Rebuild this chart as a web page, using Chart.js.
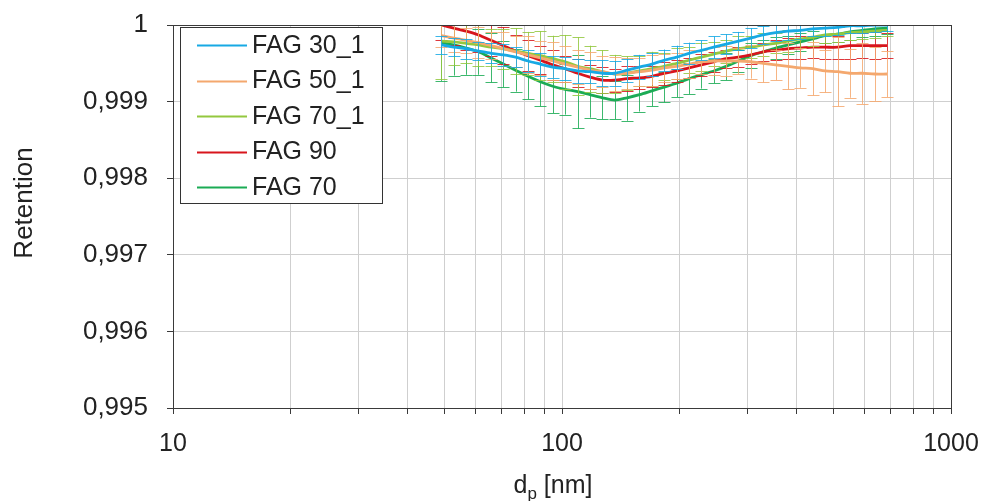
<!DOCTYPE html>
<html>
<head>
<meta charset="utf-8">
<script src="https://cdn.jsdelivr.net/npm/chart.js@4.4.1/dist/chart.umd.min.js"></script>
<style>
    body { margin: 0; background: #fff; }
    canvas { display: block; }
</style>
</head>
<body>
<canvas id="retentionChart" width="986" height="501"></canvas>
<script>
// particle diameter [nm] of each size channel
const diameters = [49.0, 52.7, 56.7, 61.0, 65.7, 70.7, 76.0, 81.8, 88.0, 94.7, 101.9, 109.7, 118.0, 127.0, 136.6, 147.0, 158.2, 170.2, 183.1, 197.1, 212.0, 228.2, 245.5, 264.2, 284.2, 305.8, 329.1, 354.1, 381.0, 410.0, 441.2, 474.7, 510.8, 549.6, 591.4, 636.4, 684.8];

const seriesNames = ['FAG 30_1', 'FAG 50_1', 'FAG 70_1', 'FAG 90', 'FAG 70'];

// retention per channel
const fag30_1 = [0.99974, 0.99971, 0.99969, 0.99966, 0.99963, 0.99961, 0.99958, 0.99953, 0.99949, 0.99945, 0.99943, 0.99940, 0.99939, 0.99937, 0.99937, 0.99941, 0.99945, 0.99949, 0.99954, 0.99958, 0.99963, 0.99967, 0.99971, 0.99975, 0.99979, 0.99983, 0.99987, 0.99990, 0.99992, 0.99993, 0.99995, 0.99996, 0.99997, 0.99999, 0.99999, 1.00000, 1.00000];
const fag50_1 = [0.99986, 0.99983, 0.99980, 0.99977, 0.99973, 0.99969, 0.99965, 0.99961, 0.99957, 0.99953, 0.99949, 0.99945, 0.99941, 0.99939, 0.99936, 0.99937, 0.99939, 0.99941, 0.99944, 0.99946, 0.99949, 0.99952, 0.99953, 0.99953, 0.99953, 0.99952, 0.99950, 0.99948, 0.99946, 0.99944, 0.99943, 0.99940, 0.99939, 0.99937, 0.99937, 0.99936, 0.99936];
const fag70_1 = [0.99979, 0.99978, 0.99976, 0.99974, 0.99971, 0.99969, 0.99966, 0.99963, 0.99960, 0.99956, 0.99952, 0.99946, 0.99943, 0.99939, 0.99936, 0.99937, 0.99940, 0.99943, 0.99946, 0.99950, 0.99954, 0.99958, 0.99962, 0.99966, 0.99969, 0.99971, 0.99974, 0.99976, 0.99979, 0.99982, 0.99984, 0.99987, 0.99988, 0.99990, 0.99991, 0.99992, 0.99993];
const fag90 = [1.00000, 0.99996, 0.99992, 0.99987, 0.99980, 0.99973, 0.99966, 0.99960, 0.99954, 0.99948, 0.99943, 0.99937, 0.99932, 0.99928, 0.99928, 0.99930, 0.99931, 0.99933, 0.99937, 0.99940, 0.99944, 0.99948, 0.99952, 0.99956, 0.99958, 0.99961, 0.99965, 0.99967, 0.99969, 0.99970, 0.99971, 0.99971, 0.99971, 0.99973, 0.99973, 0.99973, 0.99973];
const fag70 = [0.99977, 0.99974, 0.99970, 0.99965, 0.99957, 0.99949, 0.99941, 0.99933, 0.99926, 0.99920, 0.99916, 0.99913, 0.99909, 0.99905, 0.99902, 0.99905, 0.99909, 0.99914, 0.99919, 0.99924, 0.99930, 0.99935, 0.99940, 0.99946, 0.99953, 0.99960, 0.99965, 0.99970, 0.99974, 0.99978, 0.99982, 0.99986, 0.99988, 0.99991, 0.99993, 0.99995, 0.99996];

// standard deviation (+/-) per channel
const err30_1 = [0.00012, 0.00012, 0.00013, 0.00012, 0.00013, 0.00014, 0.00013, 0.00014, 0.00015, 0.00014, 0.00015, 0.00016, 0.00015, 0.00017, 0.00016, 0.00015, 0.00016, 0.00015, 0.00014, 0.00015, 0.00014, 0.00013, 0.00014, 0.00013, 0.00012, 0.00013, 0.00012, 0.00011, 0.00012, 0.00011, 0.00010, 0.00011, 0.00010, 0.00010, 0.00009, 0.00009, 0.00008];
const err50_1 = [0.00015, 0.00018, 0.00016, 0.00020, 0.00018, 0.00022, 0.00020, 0.00024, 0.00022, 0.00025, 0.00023, 0.00022, 0.00024, 0.00020, 0.00022, 0.00020, 0.00018, 0.00020, 0.00018, 0.00017, 0.00018, 0.00016, 0.00018, 0.00020, 0.00017, 0.00022, 0.00025, 0.00020, 0.00030, 0.00026, 0.00035, 0.00028, 0.00045, 0.00032, 0.00040, 0.00035, 0.00030];
const err70_1 = [0.00050, 0.00030, 0.00025, 0.00028, 0.00024, 0.00026, 0.00030, 0.00028, 0.00032, 0.00030, 0.00035, 0.00038, 0.00030, 0.00028, 0.00025, 0.00022, 0.00020, 0.00022, 0.00018, 0.00020, 0.00017, 0.00018, 0.00016, 0.00015, 0.00016, 0.00014, 0.00015, 0.00013, 0.00014, 0.00012, 0.00012, 0.00011, 0.00010, 0.00010, 0.00009, 0.00009, 0.00008];
const err90 = [0.00020, 0.00022, 0.00025, 0.00022, 0.00020, 0.00024, 0.00021, 0.00020, 0.00018, 0.00020, 0.00017, 0.00018, 0.00016, 0.00017, 0.00015, 0.00016, 0.00015, 0.00014, 0.00015, 0.00014, 0.00013, 0.00014, 0.00013, 0.00012, 0.00013, 0.00012, 0.00012, 0.00013, 0.00014, 0.00015, 0.00014, 0.00016, 0.00015, 0.00017, 0.00016, 0.00018, 0.00016];
const err70 = [0.00050, 0.00040, 0.00035, 0.00030, 0.00032, 0.00030, 0.00028, 0.00030, 0.00032, 0.00035, 0.00033, 0.00048, 0.00030, 0.00028, 0.00025, 0.00030, 0.00022, 0.00020, 0.00020, 0.00018, 0.00020, 0.00018, 0.00016, 0.00018, 0.00015, 0.00016, 0.00015, 0.00014, 0.00012, 0.00012, 0.00010, 0.00010, 0.00010, 0.00010, 0.00009, 0.00009, 0.00008];

// axis ticks
const xTickValues = [10, 20, 30, 40, 50, 60, 70, 80, 90, 100, 200, 300, 400, 500, 600, 700, 800, 900, 1000];
const xTickLabels = [10, 100, 1000];
const yTickValues = [0.995, 0.996, 0.997, 0.998, 0.999, 1];

const seriesValues = [fag30_1, fag50_1, fag70_1, fag90, fag70];
const seriesErrors = [err30_1, err50_1, err70_1, err90, err70];
const seriesColors = ['#17a9e4', '#f4a86e', '#93c83f', '#d8151c', '#1bab55'];

const FONT = "'Liberation Sans', Arial, sans-serif";

// error bars, drawn right before the line of the same dataset
const errorBarPlugin = {
    id: 'errorBars',
    beforeDatasetDraw(chart, args) {
        const ds = chart.data.datasets[args.index];
        if (!ds.errors) return;
        const { ctx, chartArea } = chart;
        const xs = chart.scales.x;
        const ys = chart.scales.y;
        ctx.save();
        ctx.beginPath();
        ctx.rect(chartArea.left, chartArea.top, chartArea.right - chartArea.left, chartArea.bottom - chartArea.top);
        ctx.clip();
        ctx.strokeStyle = ds.borderColor;
        ctx.globalAlpha = 0.85;
        ctx.lineWidth = 1;
        ds.data.forEach((p, i) => {
            const e = ds.errors[i];
            const px = Math.round(xs.getPixelForValue(p.x)) + 0.5;
            const top = ys.getPixelForValue(p.y + e);
            const bottom = ys.getPixelForValue(p.y - e);
            ctx.beginPath();
            ctx.moveTo(px, top);
            ctx.lineTo(px, bottom);
            ctx.moveTo(px - 6, Math.round(top) + 0.5);
            ctx.lineTo(px + 6, Math.round(top) + 0.5);
            ctx.moveTo(px - 6, Math.round(bottom) + 0.5);
            ctx.lineTo(px + 6, Math.round(bottom) + 0.5);
            ctx.stroke();
        });
        ctx.restore();
    }
};

// frame around the plot area, legend box and the two axis titles
const decorationPlugin = {
    id: 'decoration',
    afterDraw(chart) {
        const { ctx, chartArea } = chart;
        ctx.save();

        ctx.strokeStyle = '#3a3a3a';
        ctx.lineWidth = 1;
        ctx.strokeRect(Math.round(chartArea.left) + 0.5, Math.round(chartArea.top) + 0.5,
            Math.round(chartArea.right - chartArea.left), Math.round(chartArea.bottom - chartArea.top));

        // legend inside the plot
        ctx.fillStyle = '#fff';
        ctx.fillRect(180, 27, 202, 176);
        ctx.strokeStyle = '#333';
        ctx.strokeRect(180.5, 27.5, 202, 176);
        ctx.font = '25px ' + FONT;
        ctx.textBaseline = 'middle';
        ctx.textAlign = 'left';
        chart.data.datasets.forEach((ds, i) => {
            const y = 45 + i * 35.5;
            ctx.strokeStyle = ds.borderColor;
            ctx.lineWidth = 2;
            ctx.beginPath();
            ctx.moveTo(197, Math.round(y) + 0.5);
            ctx.lineTo(247, Math.round(y) + 0.5);
            ctx.stroke();
            ctx.fillStyle = '#222';
            ctx.fillText(ds.label, 252, y + 1);
        });

        // y title
        ctx.save();
        ctx.translate(32, 203);
        ctx.rotate(-Math.PI / 2);
        ctx.textAlign = 'center';
        ctx.textBaseline = 'alphabetic';
        ctx.fillStyle = '#222';
        ctx.font = '26px ' + FONT;
        ctx.fillText('Retention', 0, 0);
        ctx.restore();

        // x title with subscript p
        ctx.fillStyle = '#222';
        ctx.textBaseline = 'alphabetic';
        ctx.font = '25px ' + FONT;
        const wD = ctx.measureText('d').width;
        ctx.font = '17px ' + FONT;
        const wP = ctx.measureText('p').width;
        ctx.font = '25px ' + FONT;
        const wRest = ctx.measureText(' [nm]').width;
        let x = 553 - (wD + wP + wRest) / 2;
        ctx.fillText('d', x, 493);
        x += wD;
        ctx.font = '17px ' + FONT;
        ctx.fillText('p', x, 499);
        x += wP;
        ctx.font = '25px ' + FONT;
        ctx.fillText(' [nm]', x, 493);

        ctx.restore();
    }
};

const datasets = seriesNames.map((name, i) => ({
    label: name,
    data: diameters.map((d, k) => ({ x: d, y: seriesValues[i][k] })),
    errors: seriesErrors[i],
    borderColor: seriesColors[i],
    borderWidth: 2.8,
    pointRadius: 0,
    tension: 0.3,
    fill: false
}));

new Chart(document.getElementById('retentionChart').getContext('2d'), {
    type: 'line',
    data: { datasets: datasets },
    options: {
        responsive: false,
        animation: false,
        layout: { padding: { top: 25, right: 35, left: 0, bottom: 0 } },
        plugins: {
            legend: { display: false },
            tooltip: { enabled: false }
        },
        scales: {
            x: {
                type: 'logarithmic',
                min: 10,
                max: 1000,
                afterBuildTicks: (scale) => {
                    scale.ticks = xTickValues.map(v => ({ value: v }));
                },
                afterFit: (scale) => {
                    scale.height = 93;
                    scale.paddingLeft = 0;
                    scale.paddingRight = 0;
                },
                ticks: {
                    autoSkip: false,
                    maxRotation: 0,
                    padding: 15,
                    color: '#222',
                    font: { family: FONT, size: 25 },
                    callback: (value) => xTickLabels.includes(value) ? String(value) : ''
                },
                grid: { color: '#cfcfcf', tickColor: '#3a3a3a', tickLength: 6 },
                border: { color: '#3a3a3a' }
            },
            y: {
                min: 0.995,
                max: 1,
                afterBuildTicks: (scale) => {
                    scale.ticks = yTickValues.map(v => ({ value: v }));
                },
                afterFit: (scale) => {
                    scale.width = 173;
                    scale.paddingTop = 0;
                    scale.paddingBottom = 0;
                },
                ticks: {
                    padding: 19,
                    color: '#222',
                    font: { family: FONT, size: 26 },
                    callback: (value) => value === 1 ? '1' : value.toFixed(3).replace('.', ',')
                },
                grid: { color: '#cfcfcf', tickColor: '#3a3a3a', tickLength: 6 },
                border: { color: '#3a3a3a' }
            }
        }
    },
    plugins: [errorBarPlugin, decorationPlugin]
});
</script>
</body>
</html>
